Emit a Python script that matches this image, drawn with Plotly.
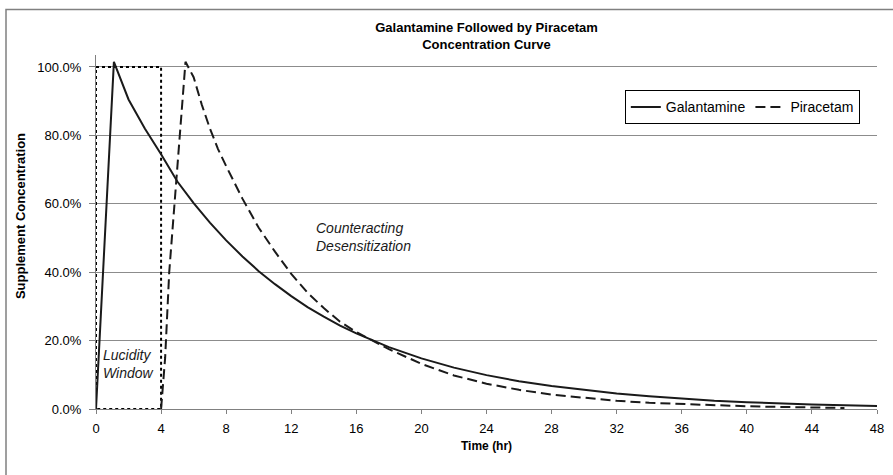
import plotly.graph_objects as go

# ---- data ----
gal_time = [0, 0.5, 1.1, 2, 3, 4, 5, 6, 7, 8, 9, 10, 11, 12, 13, 14, 15, 16, 17, 18,
            20, 22, 24, 26, 28, 30, 32, 34, 36, 38, 40, 42, 44, 46, 48]
gal_conc = [0, 47, 101.5, 90.5, 82, 74.5, 66.5, 60.2, 54.5, 49.3, 44.6, 40.3, 36.5, 33.0,
            29.8, 27.0, 24.4, 22.1, 20.0, 18.1, 14.8, 12.1, 9.9, 8.1, 6.7, 5.5, 4.5, 3.7,
            3.0, 2.4, 2.0, 1.6, 1.3, 1.1, 0.9]

pir_time = [4, 4.25, 4.5, 5, 5.5, 6, 6.5, 7, 7.5, 8, 9, 10, 11, 12, 13, 14, 15, 16, 17, 18,
            20, 22, 24, 26, 28, 30, 32, 34, 36, 38, 40, 42, 44, 46]
pir_conc = [0, 15, 40, 70, 101.5, 97, 89, 82, 76, 71, 61.5, 53, 46, 39.5, 34, 29.5, 25.5,
            22.5, 20, 17.5, 13.2, 9.8, 7.4, 5.6, 4.2, 3.2, 2.4, 1.8, 1.4, 1.0, 0.8, 0.6,
            0.4, 0.3]

window_time = [0, 0, 4, 4, 0]
window_conc = [0, 100, 100, 0, 0]

x_ticks = list(range(0, 49, 4))
y_ticks = [0, 20, 40, 60, 80, 100]
y_tick_text = ["0.0%", "20.0%", "40.0%", "60.0%", "80.0%", "100.0%"]

FONT = "Liberation Sans, Arial, sans-serif"

fig = go.Figure()
fig.add_trace(go.Scatter(x=window_time, y=window_conc, mode="lines", showlegend=False,
                         line=dict(color="black", width=2, dash="dot"), hoverinfo="skip"))
fig.add_trace(go.Scatter(x=gal_time, y=gal_conc, mode="lines", name="Galantamine",
                         line=dict(color="#1a1a1a", width=2)))
fig.add_trace(go.Scatter(x=pir_time, y=pir_conc, mode="lines", name="Piracetam",
                         line=dict(color="#1a1a1a", width=2, dash="10px,5px")))

fig.update_layout(
    width=893, height=475,
    margin=dict(l=96, r=16, t=55, b=66, autoexpand=False),
    paper_bgcolor="white", plot_bgcolor="white",
    font=dict(family=FONT, size=13, color="black"),
    title=dict(text="<b>Galantamine Followed by Piracetam<br>Concentration Curve</b>",
               x=486.5 / 893, xanchor="center", xref="container",
               y=1 - 32 / 475, yanchor="top", yref="container",
               font=dict(family=FONT, size=13, color="black")),
    legend=dict(orientation="h", x=0.978, xanchor="right", y=0.9, yanchor="top",
                bordercolor="black", borderwidth=1, bgcolor="white",
                font=dict(family=FONT, size=14, color="black")),
    xaxis=dict(range=[0, 48], tickvals=x_ticks, showgrid=False, zeroline=False,
               showline=True, linecolor="#808080", linewidth=1,
               ticks="outside", ticklen=4, tickcolor="#808080", ticklabelstandoff=3,
               tickfont=dict(family=FONT, size=13, color="black")),
    yaxis=dict(range=[0, 103.5], tickvals=y_ticks, ticktext=y_tick_text,
               showgrid=True, gridcolor="#8c8c8c", gridwidth=1, zeroline=False,
               showline=True, linecolor="#808080", linewidth=1,
               ticks="outside", ticklen=6, tickcolor="#808080", ticklabelstandoff=5,
               tickfont=dict(family=FONT, size=13, color="black")),
    annotations=[
        dict(text="<b>Time (hr)</b>", x=0.5, y=0, xref="paper", yref="paper",
             xanchor="center", yanchor="middle", yshift=-37, showarrow=False,
             font=dict(family=FONT, size=12, color="black")),
        dict(text="<b>Supplement Concentration</b>", x=0, y=0.545, xref="paper", yref="paper",
             xanchor="center", yanchor="middle", xshift=-76, textangle=-90, showarrow=False,
             font=dict(family=FONT, size=13, color="black")),
        dict(text="<i>Lucidity<br>Window</i>", x=0, y=0, xref="x", yref="y",
             xanchor="left", yanchor="middle", xshift=5, yshift=45, showarrow=False,
             align="left", font=dict(family=FONT, size=14, color="#1a1a1a")),
        dict(text="<i>Counteracting<br>Desensitization</i>", x=13.4, y=50.3, xref="x", yref="y",
             xanchor="left", yanchor="middle", showarrow=False,
             align="left", font=dict(family=FONT, size=14, color="#1a1a1a")),
    ],
    shapes=[
        dict(type="rect", xref="paper", yref="paper",
             x0=(6 - 96) / 781, x1=1.2, y0=-0.5, y1=(409 - 9.5) / 354,
             line=dict(color="#808080", width=1.5), fillcolor="rgba(0,0,0,0)", layer="below"),
    ],
)

fig.write_html("out.html", config={"displayModeBar": False},
               post_script="document.body.style.margin='0';document.body.style.overflow='hidden';")
